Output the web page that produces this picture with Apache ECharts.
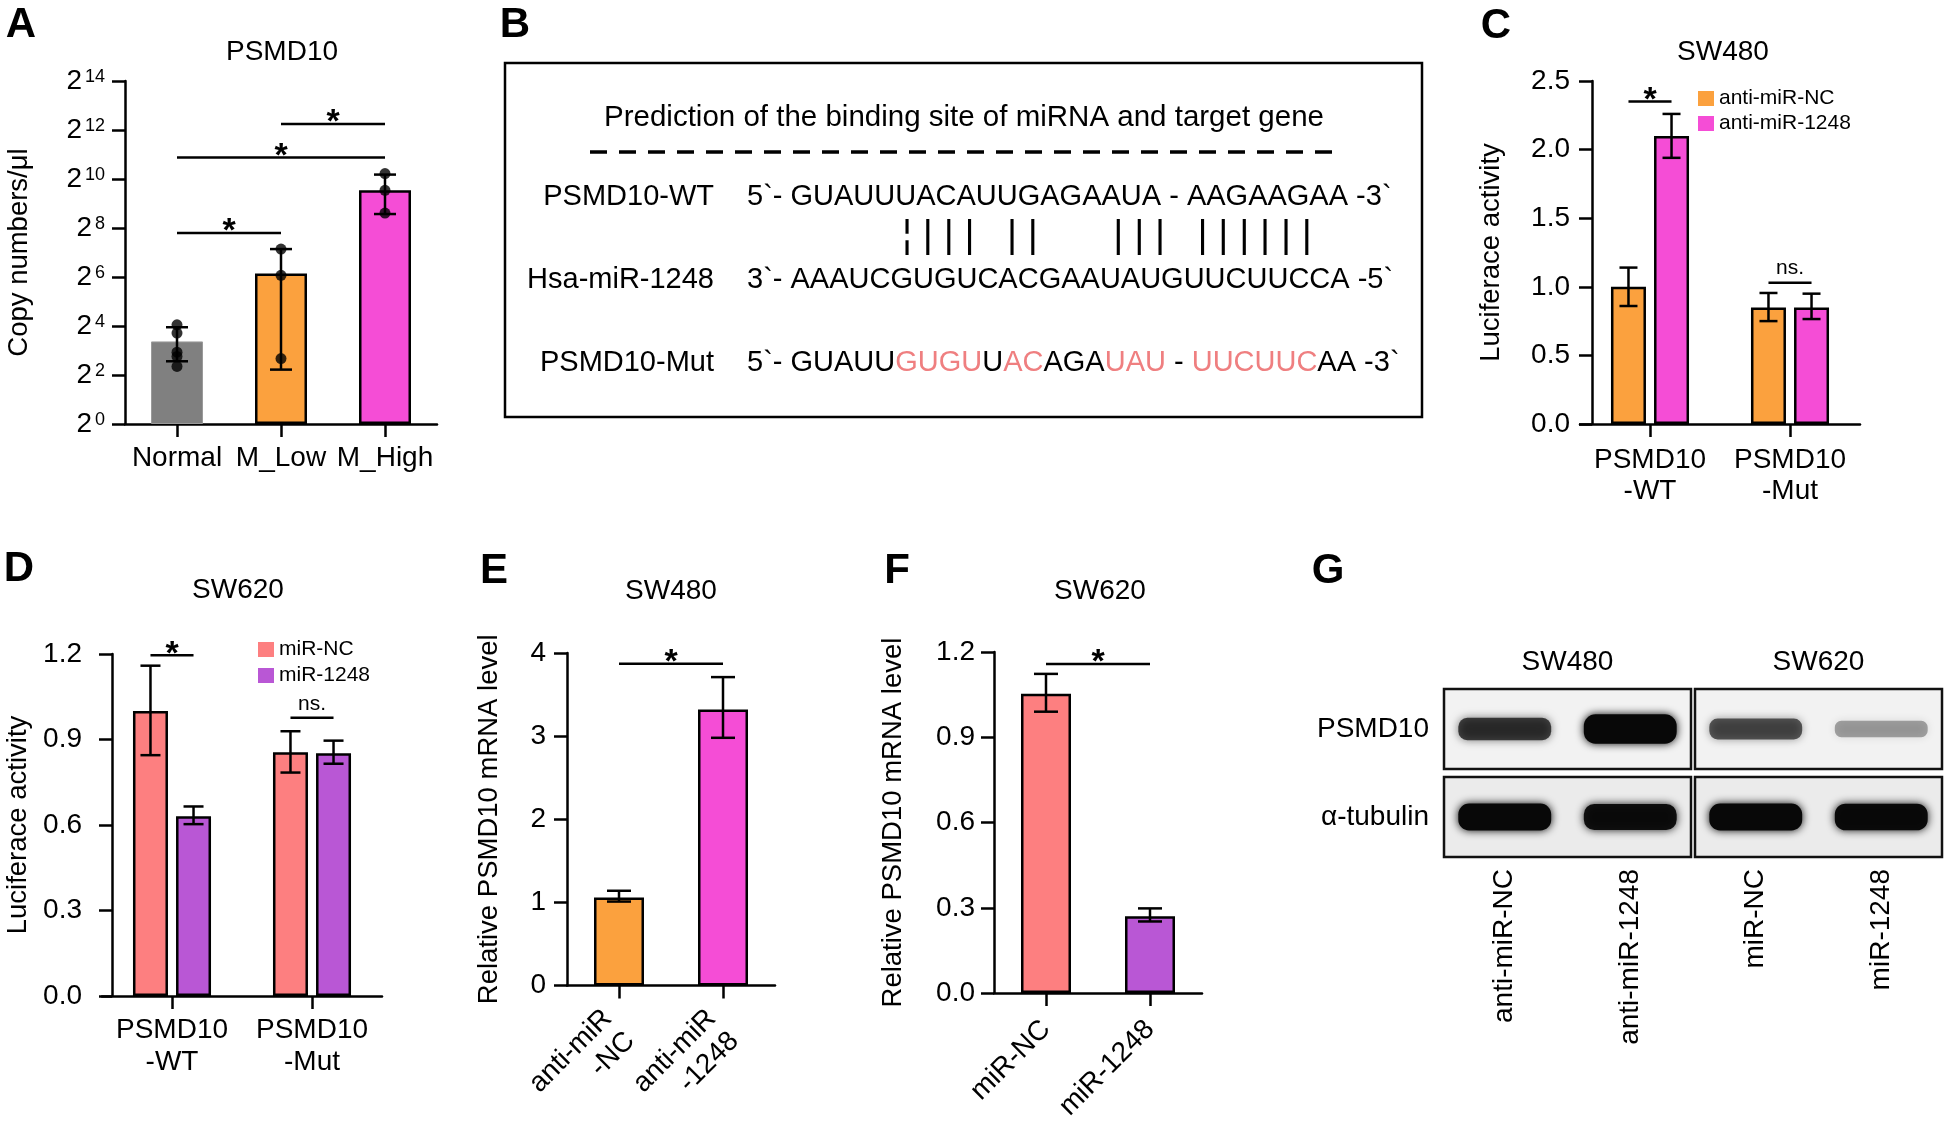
<!DOCTYPE html>
<html>
<head>
<meta charset="utf-8">
<title>PSMD10 / miR-1248</title>
<script src="https://cdn.jsdelivr.net/npm/echarts@6/dist/echarts.min.js"></script>
<style>
  html, body { margin: 0; padding: 0; background: #fff; }
  #chart { width: 1944px; height: 1124px; }
</style>
</head>
<body>
<div id="chart"></div>
<script>
// ---------- data ----------
// A: PSMD10 copy numbers (plotted as log2 exponent)
const groupsA = ['Normal', 'M_Low', 'M_High'];
const meanA = [3.37, 6.14, 9.54];
const errLowA = [2.56, 2.22, 8.57];
const errHighA = [3.95, 7.14, 10.18];
const dotsNormal = [4.05, 3.71, 2.93, 2.76, 2.35];
const dotsLow = [7.14, 6.07, 2.67];
const dotsHigh = [10.22, 9.54, 8.61];
const sigA = [[0, 1, 7.8, '*'], [0, 2, 10.88, '*'], [1, 2, 12.24, '*']];

// B: binding site prediction
const seqTitle = 'Prediction of the binding site of miRNA and target gene';
const rowLabels = ['PSMD10-WT', 'Hsa-miR-1248', 'PSMD10-Mut'];
const seqWT = '5`- GUAUUUACAUUGAGAAUA - AAGAAGAA -3`';
const seqMiR = '3`- AAAUCGUGUCACGAAUAUGUUCUUCCA -5`';
const seqMut = [['5`- GUAUU', 0], ['GUGU', 1], ['U', 0], ['AC', 1], ['AGA', 0], ['UAU', 1], [' - ', 0], ['UUCUUC', 1], ['AA -3`', 0]];
const pairing = '¦||| ||   ||| ||||||';

// C: luciferase SW480
const lucCats = ['PSMD10\n-WT', 'PSMD10\n-Mut'];
const namesC = ['anti-miR-NC', 'anti-miR-1248'];
const ncC = [1.0, 0.85];
const ncLowC = [0.86, 0.75];
const ncHighC = [1.14, 0.955];
const mirC = [2.1, 0.85];
const mirLowC = [1.94, 0.765];
const mirHighC = [2.26, 0.95];
const sigC = [[0, 2.35, '*'], [1, 1.03, 'ns.']];

// D: luciferase SW620
const namesD = ['miR-NC', 'miR-1248'];
const ncD = [1.0, 0.855];
const ncLowD = [0.845, 0.784];
const ncHighD = [1.159, 0.929];
const mirD = [0.631, 0.852];
const mirLowD = [0.603, 0.815];
const mirHighD = [0.665, 0.896];
const sigD = [[0, 1.196, '*'], [1, 0.976, 'ns.']];

// E: SW480 mRNA
const catsE = ['anti-miR\n-NC', 'anti-miR\n-1248'];
const meanE = [1.06, 3.32];
const lowE = [1.01, 2.98];
const highE = [1.14, 3.71];
const sigE = [[0, 1, 3.87, '*']];

// F: SW620 mRNA
const catsF = ['miR-NC', 'miR-1248'];
const meanF = [1.053, 0.27];
const lowF = [0.99, 0.252];
const highF = [1.123, 0.298];
const sigF = [[0, 1, 1.158, '*']];

// G: western blot
const lanesG = ['anti-miR-NC', 'anti-miR-1248', 'miR-NC', 'miR-1248'];
const cellLinesG = ['SW480', 'SW620'];
const proteinsG = ['PSMD10', 'α-tubulin'];
const densityPSMD10 = [0.72, 1.15, 0.62, 0.33];
const densityTubulin = [1.0, 0.95, 1.0, 0.98];

// ---------- styles ----------
const FONT = 'Liberation Sans, Arial, Helvetica, sans-serif';
const FS = 28;      // chart text size
const LW = 2.5;
const ORANGE = '#FBA13E', MAGENTA = '#F54DD6', SALMON = '#FD7F80', PURPLE = '#B957D5', GRAY = '#808080';
const RED_SEQ = '#EF7F80';

const axisLineBlack = { show: true, onZero: false, lineStyle: { color: '#000', width: LW } };
const tickY = { show: true, length: 13, lineStyle: { color: '#000', width: LW } };
const tickX = { show: true, alignWithLabel: true, length: 13, lineStyle: { color: '#000', width: LW } };

function xCat(grid, data, label) {
  return {
    gridIndex: grid, type: 'category', data: data,
    axisLine: axisLineBlack, axisTick: tickX,
    axisLabel: Object.assign({ color: '#000', fontSize: FS, fontFamily: FONT, interval: 0, lineHeight: 31 }, label)
  };
}
function yVal(grid, min, max, step, label, name, gap, extra) {
  return Object.assign({
    gridIndex: grid, type: 'value', min: min, max: max, interval: step,
    splitLine: { show: false }, axisLine: axisLineBlack, axisTick: tickY,
    axisLabel: Object.assign({ color: '#000', fontSize: FS, fontFamily: FONT }, label),
    name: name, nameLocation: 'middle', nameGap: gap,
    nameTextStyle: { color: '#000', fontSize: 27.5, fontFamily: FONT }
  }, extra || {});
}

function errBars(axis, lows, highs, offset, cap) {
  return {
    type: 'custom', xAxisIndex: axis, yAxisIndex: axis, z: 5, silent: true,
    data: lows.map((lo, i) => [i, lo, highs[i]]),
    encode: { x: 0, y: [1, 2] },
    renderItem: function (params, api) {
      const lo = api.coord([api.value(0), api.value(1)]);
      const hi = api.coord([api.value(0), api.value(2)]);
      const cx = lo[0] + offset;
      const st = { stroke: '#000', lineWidth: LW };
      return { type: 'group', children: [
        { type: 'line', shape: { x1: cx, y1: lo[1], x2: cx, y2: hi[1] }, style: st },
        { type: 'line', shape: { x1: cx - cap, y1: hi[1], x2: cx + cap, y2: hi[1] }, style: st },
        { type: 'line', shape: { x1: cx - cap, y1: lo[1], x2: cx + cap, y2: lo[1] }, style: st }
      ] };
    }
  };
}

// brackets: [fromCat, fromOffsetPx, toCat, toOffsetPx, y, label]
function brackets(axis, list) {
  return {
    type: 'custom', xAxisIndex: axis, yAxisIndex: axis, z: 5, silent: true,
    data: list.map(b => [b[0], b[4]]),
    encode: { x: 0, y: 1 },
    renderItem: function (params, api) {
      const b = list[params.dataIndex];
      const p1 = api.coord([b[0], b[4]]);
      const p2 = api.coord([b[2], b[4]]);
      const x1 = p1[0] + b[1], x2 = p2[0] + b[3], y = p1[1];
      const star = b[5] === '*';
      return { type: 'group', children: [
        { type: 'line', shape: { x1: x1, y1: y, x2: x2, y2: y }, style: { stroke: '#000', lineWidth: LW } },
        { type: 'text', x: (x1 + x2) / 2, y: y + (star ? -1 : -14), style: {
          text: b[5], fill: '#000', fontFamily: FONT, fontSize: star ? 34 : 21, fontWeight: star ? 'bold' : 'normal',
          align: 'center', verticalAlign: 'middle', textAlign: 'center', textVerticalAlign: 'middle' } }
      ] };
    }
  };
}

const BW2 = 35, GAP2 = 0.23;
const OFF2 = BW2 * (1 + GAP2) / 2;

// blot renderers
function membranes() {
  const cells = [[0, 0], [1, 0], [0, 1], [1, 1]];
  return {
    type: 'custom', xAxisIndex: 5, yAxisIndex: 5, z: 1, silent: true,
    data: cells,
    encode: { x: 0, y: 1 },
    renderItem: function (params, api) {
      const cl = api.value(0), row = api.value(1);
      const c = api.coord([cl * 2, row]);
      const sz = api.size([1, 1]);
      const x0 = c[0] - sz[0] / 2 + 2, x1 = c[0] + sz[0] * 1.5 - 2;
      const y0 = c[1] - sz[1] / 2 + 4, y1 = c[1] + sz[1] / 2 - 4;
      return { type: 'rect', shape: { x: x0, y: y0, width: x1 - x0, height: y1 - y0 },
        style: { fill: row === 0 ? '#f2f2f2' : '#ebebeb', stroke: '#111', lineWidth: LW } };
    }
  };
}
function bands() {
  const data = [];
  densityPSMD10.forEach((d, i) => data.push([i, 0, d]));
  densityTubulin.forEach((d, i) => data.push([i, 1, d]));
  return {
    type: 'custom', xAxisIndex: 5, yAxisIndex: 5, z: 3, silent: true,
    data: data,
    encode: { x: 0, y: 1 },
    renderItem: function (params, api) {
      const c = api.coord([api.value(0), api.value(1)]);
      const lane = api.size([1, 1])[0];
      const d = api.value(2);
      const w = lane * 0.74, h = 11 + 16 * Math.min(d, 1.25);
      const col = 'rgba(8,8,8,' + Math.min(1, d).toFixed(2) + ')';
      return { type: 'rect', shape: { x: c[0] - w / 2, y: c[1] - h / 2, width: w, height: h, r: h / 2.5 },
        style: { fill: col, shadowBlur: 9, shadowColor: col } };
    }
  };
}

// ---------- panel B and headings (graphic) ----------
function txt(x, y, text, size, opts) {
  return Object.assign({ type: 'text', x: x, y: y, silent: true, style: Object.assign({
    text: text, fill: '#000', fontFamily: FONT, fontSize: size,
    align: 'center', verticalAlign: 'middle', textAlign: 'center', textVerticalAlign: 'middle'
  }, (opts && opts.style) || {}) });
}
const BFS = 29;
const LEFT = { style: { align: 'left', textAlign: 'left' } };
const RIGHT = { style: { align: 'right', textAlign: 'right' } };
const BOLD = { style: { fontWeight: 'bold' } };
const graphics = [
  txt(21, 25, 'A', 42, BOLD),
  txt(515, 25, 'B', 42, BOLD),
  txt(1496, 26, 'C', 42, BOLD),
  txt(19, 569, 'D', 42, BOLD),
  txt(494, 571, 'E', 42, BOLD),
  txt(897, 571, 'F', 42, BOLD),
  txt(1328, 571, 'G', 42, BOLD),
  txt(282, 52, 'PSMD10', FS),
  txt(1723, 52, 'SW480', FS),
  txt(238, 590, 'SW620', FS),
  txt(671, 591, 'SW480', FS),
  txt(1100, 591, 'SW620', FS),
  { type: 'rect', silent: true, shape: { x: 505, y: 63, width: 917, height: 354 }, style: { fill: 'none', stroke: '#000', lineWidth: 2.5 } },
  txt(964, 118, seqTitle, 29.5),
  { type: 'line', silent: true, shape: { x1: 590, y1: 152, x2: 1337, y2: 152 }, style: { stroke: '#000', lineWidth: 3.5, lineDash: [17, 12] } },
  txt(714, 197, rowLabels[0], BFS, RIGHT),
  txt(714, 280, rowLabels[1], BFS, RIGHT),
  txt(714, 363, rowLabels[2], BFS, RIGHT),
  txt(747, 197, seqWT, BFS, LEFT),
  txt(902, 236, pairing.split('').join(' '), 38.8, LEFT),
  txt(747, 280, seqMiR, BFS, LEFT),
  txt(747, 363, seqMut.map(p => '{' + (p[1] ? 'r' : 'k') + '|' + p[0] + '}').join(''), BFS, { style: {
    align: 'left', textAlign: 'left',
    rich: {
      k: { fill: '#000', color: '#000', fontSize: BFS, fontFamily: FONT },
      r: { fill: RED_SEQ, color: RED_SEQ, fontSize: BFS, fontFamily: FONT }
    } } })
];

// ---------- chart ----------
const chart = echarts.init(document.getElementById('chart'), null, { renderer: 'canvas' });

const legendBase = {
  orient: 'vertical', icon: 'rect', itemWidth: 16, itemHeight: 15,
  padding: 0, selectedMode: false, itemStyle: { borderWidth: 0 },
  textStyle: { fontSize: 21, color: '#000', fontFamily: FONT }
};

const option = {
  backgroundColor: '#fff',
  animation: false,
  textStyle: { fontFamily: FONT, color: '#000' },
  grid: [
    { left: 125, top: 81, width: 312, height: 343 },     // A
    { left: 1580, top: 81, width: 280, height: 343 },    // C
    { left: 102, top: 654, width: 280, height: 342 },    // D
    { left: 567, top: 653, width: 208, height: 342.5 },  // E
    { left: 994, top: 652, width: 208, height: 343.5 },  // F
    { left: 1442, top: 685, width: 502, height: 176 }    // G
  ],
  legend: [
    Object.assign({ data: namesC, left: 1698, top: 88, itemGap: 4 }, legendBase),
    Object.assign({ data: namesD, left: 258, top: 639, itemGap: 5 }, legendBase)
  ],
  xAxis: [
    xCat(0, groupsA, { margin: 19 }),
    xCat(1, lucCats, { margin: 21 }),
    xCat(2, lucCats, { margin: 18, lineHeight: 32 }),
    xCat(3, catsE, { margin: 40, rotate: 45, lineHeight: 32 }),
    xCat(4, catsF, { margin: 32, rotate: 45 }),
    { gridIndex: 5, type: 'category', data: lanesG, axisLine: { show: false }, axisTick: { show: false },
      axisLabel: { color: '#000', fontSize: FS, fontFamily: FONT, rotate: 90, margin: 8, interval: 0 } },
    { gridIndex: 5, type: 'category', position: 'top', data: cellLinesG, axisLine: { show: false }, axisTick: { show: false },
      axisLabel: { color: '#000', fontSize: FS, fontFamily: FONT, margin: 9 } }
  ],
  yAxis: [
    yVal(0, 0, 14, 2, {
      margin: 20,
      formatter: v => '{b|2}{s|' + v + '}',
      rich: { b: { fontSize: FS, fontFamily: FONT, color: '#000' },
              s: { fontSize: 18, fontFamily: FONT, color: '#000', verticalAlign: 'top', padding: [1, 0, 0, 3] } }
    }, 'Copy numbers/μl', 92),
    yVal(1, 0, 2.5, 0.5, { margin: 22, formatter: v => v.toFixed(1) }, 'Luciferace activity', 87, { offset: -12 }),
    yVal(2, 0, 1.2, 0.3, { margin: 30, formatter: v => v.toFixed(1) }, 'Luciferace activity', 80, { offset: -10 }),
    yVal(3, 0, 4, 1, { margin: 21 }, 'Relative PSMD10 mRNA level', 64),
    yVal(4, 0, 1.2, 0.3, { margin: 19, formatter: v => v.toFixed(1) }, 'Relative PSMD10 mRNA level', 87),
    { gridIndex: 5, type: 'category', inverse: true, data: proteinsG, axisLine: { show: false }, axisTick: { show: false },
      axisLabel: { color: '#000', fontSize: FS, fontFamily: FONT, margin: 13 } }
  ],
  graphic: graphics,
  series: [
    // A
    { type: 'bar', xAxisIndex: 0, yAxisIndex: 0, barWidth: 52, z: 2,
      data: meanA.map((v, i) => ({ value: v, itemStyle: {
        color: [GRAY, ORANGE, MAGENTA][i], borderColor: ['#9a9a9a', '#000', '#000'][i], borderWidth: i === 0 ? 1 : LW } })) },
    errBars(0, errLowA, errHighA, 0, 11),
    { type: 'scatter', xAxisIndex: 0, yAxisIndex: 0, z: 6, symbolSize: 11, itemStyle: { color: '#000' },
      data: dotsNormal.map(v => [0, v]).concat(dotsLow.map(v => [1, v]), dotsHigh.map(v => [2, v])) },
    brackets(0, sigA.map(s => [s[0], 0, s[1], 0, s[2], s[3]])),
    // C
    { type: 'bar', name: namesC[0], xAxisIndex: 1, yAxisIndex: 1, barWidth: BW2, barGap: '23%', data: ncC,
      itemStyle: { color: ORANGE, borderColor: '#000', borderWidth: LW } },
    { type: 'bar', name: namesC[1], xAxisIndex: 1, yAxisIndex: 1, barWidth: BW2, barGap: '23%', data: mirC,
      itemStyle: { color: MAGENTA, borderColor: '#000', borderWidth: LW } },
    errBars(1, ncLowC, ncHighC, -OFF2, 9),
    errBars(1, mirLowC, mirHighC, OFF2, 9),
    brackets(1, sigC.map(s => [s[0], -OFF2, s[0], OFF2, s[1], s[2]])),
    // D
    { type: 'bar', name: namesD[0], xAxisIndex: 2, yAxisIndex: 2, barWidth: BW2, barGap: '23%', data: ncD,
      itemStyle: { color: SALMON, borderColor: '#000', borderWidth: LW } },
    { type: 'bar', name: namesD[1], xAxisIndex: 2, yAxisIndex: 2, barWidth: BW2, barGap: '23%', data: mirD,
      itemStyle: { color: PURPLE, borderColor: '#000', borderWidth: LW } },
    errBars(2, ncLowD, ncHighD, -OFF2, 10),
    errBars(2, mirLowD, mirHighD, OFF2, 10),
    brackets(2, sigD.map(s => [s[0], -OFF2, s[0], OFF2, s[1], s[2]])),
    // E
    { type: 'bar', xAxisIndex: 3, yAxisIndex: 3, barWidth: 50,
      data: meanE.map((v, i) => ({ value: v, itemStyle: { color: [ORANGE, MAGENTA][i] } })),
      itemStyle: { borderColor: '#000', borderWidth: LW } },
    errBars(3, lowE, highE, 0, 12),
    brackets(3, sigE.map(s => [s[0], 0, s[1], 0, s[2], s[3]])),
    // F
    { type: 'bar', xAxisIndex: 4, yAxisIndex: 4, barWidth: 50,
      data: meanF.map((v, i) => ({ value: v, itemStyle: { color: [SALMON, PURPLE][i] } })),
      itemStyle: { borderColor: '#000', borderWidth: LW } },
    errBars(4, lowF, highF, 0, 12),
    brackets(4, sigF.map(s => [s[0], 0, s[1], 0, s[2], s[3]])),
    // G
    membranes(),
    bands()
  ]
};

chart.setOption(option);
</script>
</body>
</html>
